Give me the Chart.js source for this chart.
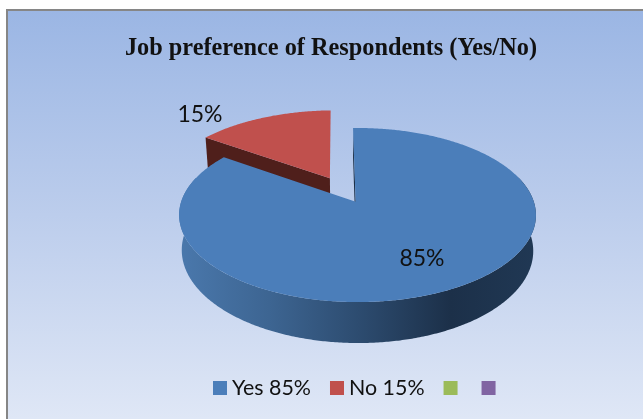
<!DOCTYPE html>
<html>
<head>
<meta charset="utf-8">
<title>Job preference of Respondents</title>
<script src="https://cdn.jsdelivr.net/npm/chart.js@4"></script>
<style>
  html, body { margin: 0; padding: 0; background: #fff; }
  #wrap { position: relative; width: 643px; height: 419px; }
</style>
</head>
<body>
<div id="wrap"><canvas id="pieChart" width="643" height="419"></canvas></div>
<script>
var chartTitle = "Job preference of Respondents (Yes/No)";
var categories = ["Yes 85%", "No 15%", "", ""];
var shares = [85, 15, 0, 0];
var sliceColors = ["#4b7eba", "#c0504d", "#9bbb59", "#8064a2"];
var wallColors = [null, "#4f1f1b", null, null];
var exploded = [0, 0.326, 0, 0];

// tilted pie plane, p and q are the perspective strength along y and x
var plane = { x: 355.7, y: 201.7, a: 176.3, b: 85, p: 0.153, q: 0.0101, depth: 34.7, shrink: 0.985 };
var labelSpots = [[422, 259], [200, 115]];

// unit disc (x right, y towards the viewer) to canvas
function project(x, y, drop) {
  var w = 1 - plane.p * y - plane.q * x;
  var px = (plane.a * x) / w;
  var py = plane.y + (plane.b * y) / w;
  if (drop) {
    px = px * plane.shrink;
    py += plane.depth / w;
  }
  return { x: plane.x + px, y: py };
}

// arc angles from the library start at the +x axis, going clockwise
function rimPoint(angle, ox, oy, drop) {
  return project(ox + Math.cos(angle), oy + Math.sin(angle), drop);
}

function traceFace(ctx, el, ox, oy) {
  var p = project(ox, oy);
  ctx.beginPath();
  ctx.moveTo(p.x, p.y);
  for (var t = el.startAngle; t < el.endAngle; t += 0.01) {
    p = rimPoint(t, ox, oy);
    ctx.lineTo(p.x, p.y);
  }
  p = rimPoint(el.endAngle, ox, oy);
  ctx.lineTo(p.x, p.y);
  ctx.closePath();
}

function fillEdgeWall(ctx, angle, ox, oy, color) {
  var a = project(ox, oy);
  var b = rimPoint(angle, ox, oy);
  var c = rimPoint(angle, ox, oy, true);
  var d = project(ox, oy, true);
  ctx.beginPath();
  ctx.moveTo(a.x, a.y);
  ctx.lineTo(b.x, b.y);
  ctx.lineTo(c.x, c.y);
  ctx.lineTo(d.x, d.y);
  ctx.closePath();
  ctx.fillStyle = color;
  ctx.fill();
}

function fillOuterWall(ctx, el) {
  // only the part of the rim turned towards the viewer
  var from = Math.max(el.startAngle, -0.3);
  var to = Math.min(el.endAngle, Math.PI + 0.3);
  var t, p;
  var grad = ctx.createLinearGradient(180, 0, 536, 0);
  grad.addColorStop(0, "#4a78ac");
  grad.addColorStop(0.25, "#3d6592");
  grad.addColorStop(0.5, "#2d4c70");
  grad.addColorStop(0.76, "#1c3049");
  grad.addColorStop(1, "#203854");
  ctx.beginPath();
  for (t = from; t < to; t += 0.01) {
    p = rimPoint(t, 0, 0);
    ctx.lineTo(p.x, p.y);
  }
  for (t = to; t > from; t -= 0.01) {
    p = rimPoint(t, 0, 0, true);
    ctx.lineTo(p.x, p.y);
  }
  ctx.closePath();
  ctx.fillStyle = grad;
  ctx.fill();
}

var panelPlugin = {
  id: "panel",
  beforeDraw: function (chart) {
    var ctx = chart.ctx;
    var grad = ctx.createLinearGradient(0, 11, 0, 419);
    grad.addColorStop(0, "#9bb6e4");
    grad.addColorStop(0.5, "#bccdec");
    grad.addColorStop(1, "#dfe7f6");
    ctx.save();
    ctx.fillStyle = "#868686";
    ctx.fillRect(6, 9, 637, 410);
    ctx.fillStyle = grad;
    ctx.fillRect(8, 11, 635, 408);
    ctx.restore();
  },
};

// the flat arcs are replaced by a raised version using the same angles
var raisedPie = {
  id: "raisedPie",
  beforeDatasetDraw: function (chart, args) {
    var ctx = chart.ctx;
    var arcs = args.meta.data;
    var start = arcs[0].startAngle;
    ctx.save();

    // exploded slice first, the big slice overlaps its wall
    var mid = (arcs[1].startAngle + arcs[1].endAngle) / 2;
    var ox = exploded[1] * Math.cos(mid);
    var oy = exploded[1] * Math.sin(mid);
    fillEdgeWall(ctx, arcs[1].startAngle, ox, oy, wallColors[1]);
    traceFace(ctx, arcs[1], ox, oy);
    ctx.fillStyle = sliceColors[1];
    ctx.fill();

    fillOuterWall(ctx, arcs[0]);
    fillEdgeWall(ctx, start, 0, 0, "#1c3049");
    traceFace(ctx, arcs[0], 0, 0);
    ctx.fillStyle = sliceColors[0];
    ctx.fill();

    // value labels
    ctx.fillStyle = "#111";
    ctx.font = "23px Lato";
    ctx.textAlign = "center";
    ctx.textBaseline = "middle";
    labelSpots.forEach(function (spot, i) {
      ctx.fillText(shares[i] + "%", spot[0], spot[1]);
    });
    ctx.restore();
    return false;
  },
};

var legendRow = {
  id: "legendRow",
  afterDraw: function (chart) {
    var ctx = chart.ctx;
    var x = 213;
    ctx.save();
    ctx.font = "21.4px Lato";
    ctx.textBaseline = "middle";
    categories.forEach(function (name, i) {
      ctx.fillStyle = sliceColors[i];
      ctx.fillRect(x, 381, 14, 14);
      ctx.fillStyle = "#111";
      ctx.fillText(name, x + 19, 388);
      x += 14 + 5 + ctx.measureText(name).width + 19;
    });
    ctx.restore();
  },
};

new Chart(document.getElementById("pieChart"), {
  type: "pie",
  data: {
    labels: categories,
    datasets: [{ data: shares, backgroundColor: sliceColors, borderWidth: 0 }],
  },
  options: {
    responsive: false,
    animation: false,
    rotation: -1,
    layout: { padding: { top: 29, left: 19 } },
    plugins: {
      legend: { display: false },
      tooltip: { enabled: false },
      title: {
        display: true,
        text: chartTitle,
        color: "#111",
        font: { family: "Liberation Serif", size: 24.3, weight: "bold" },
        padding: { top: 5, bottom: 0 },
      },
    },
  },
  plugins: [panelPlugin, raisedPie, legendRow],
});
</script>
</body>
</html>
